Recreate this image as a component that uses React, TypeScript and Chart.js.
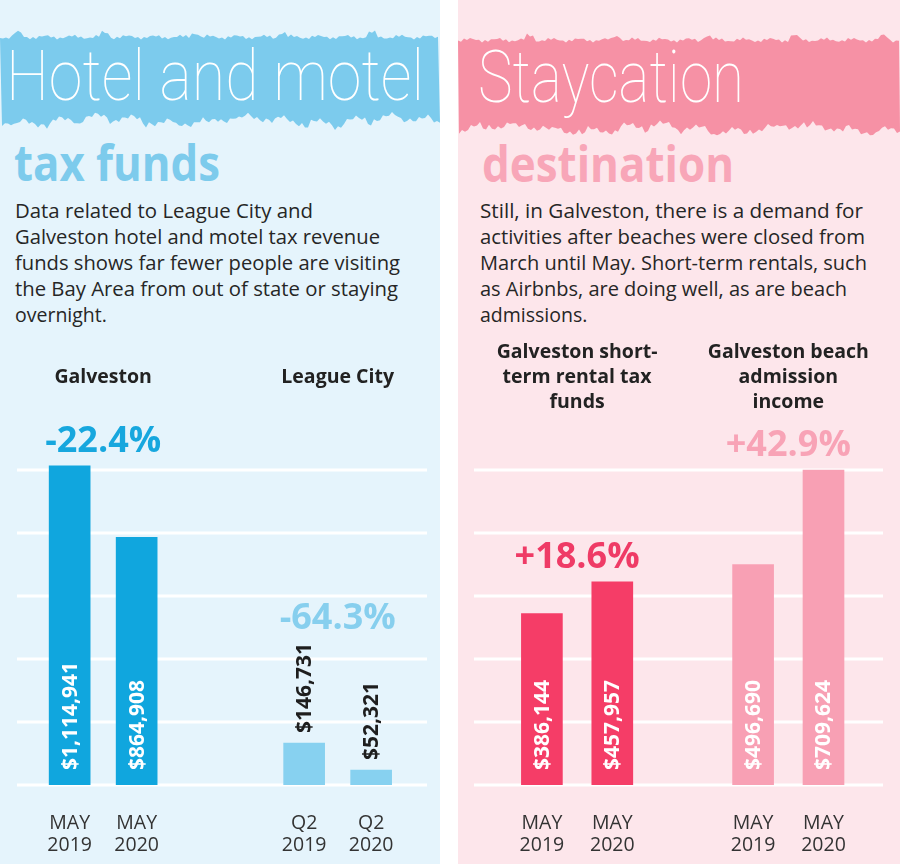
import React, { useEffect, useRef } from 'react';
import { Chart, registerables } from 'chart.js';

Chart.register(...registerables);

// ---------- data ----------
const galvestonTitle = ['Galveston'];
const galvestonLabels = [['MAY', '2019'], ['MAY', '2020']];
const galvestonValues = [1114941, 864908];
const galvestonChange = '-22.4%';

const leagueTitle = ['League City'];
const leagueLabels = [['Q2', '2019'], ['Q2', '2020']];
const leagueValues = [146731, 52321];
const leagueChange = '-64.3%';

const rentalTitle = ['Galveston short-', 'term rental tax', 'funds'];
const rentalLabels = [['MAY', '2019'], ['MAY', '2020']];
const rentalValues = [386144, 457957];
const rentalChange = '+18.6%';

const beachTitle = ['Galveston beach', 'admission', 'income'];
const beachLabels = [['MAY', '2019'], ['MAY', '2020']];
const beachValues = [496690, 709624];
const beachChange = '+42.9%';

const leftGridValues = [0, 220000, 440000, 660000, 880000, 1100000];
const rightGridValues = [0, 142000, 284000, 426000, 568000, 710000];

const leftTitle = 'Hotel and motel';
const leftSubtitle = 'tax funds';
const leftBody = [
  'Data related to League City and',
  'Galveston hotel and motel tax revenue',
  'funds shows far fewer people are visiting',
  'the Bay Area from out of state or staying',
  'overnight.',
];
const rightTitle = 'Staycation';
const rightSubtitle = 'destination';
const rightBody = [
  'Still, in Galveston, there is a demand for',
  'activities after beaches were closed from',
  'March until May. Short-term rentals, such',
  'as Airbnbs, are doing well, as are beach',
  'admissions.',
];

// ---------- layout ----------
const CANVAS_TOP = 330;
const CANVAS_H = 534;
const TITLE_CENTER = 377;
const FONT = '"Open Sans", "Noto Sans", sans-serif';

type Group = {
  title: string[];
  labels: string[][];
  values: number[];
  slots: number[];
  barColor: string;
  changeText: string;
  changeColor: string;
  inside: boolean;
  valueColor: string;
};

type PanelProps = {
  left: number;
  width: number;
  slotCount: number;
  groups: Group[];
  yMax: number;
  gridValues: number[];
  gridFrom: number;
  gridTo: number;
  padLeft: number;
  padRight: number;
  padTop: number;
};

function BarPanel(p: PanelProps) {
  const ref = useRef<HTMLCanvasElement>(null);
  useEffect(() => {
    const labels: any[] = Array.from({ length: p.slotCount }, () => '');
    const data: (number | null)[] = Array(p.slotCount).fill(null);
    const colors: string[] = Array(p.slotCount).fill('rgba(0,0,0,0)');
    p.groups.forEach((g) =>
      g.slots.forEach((k, i) => {
        labels[k] = g.labels[i];
        data[k] = g.values[i];
        colors[k] = g.barColor;
      })
    );

    const decor = {
      id: 'panelDecor',
      beforeDatasetsDraw(chart: any) {
        const { ctx } = chart;
        const ys = chart.scales.y;
        ctx.save();
        ctx.strokeStyle = '#ffffff';
        ctx.lineWidth = 3;
        p.gridValues.forEach((v) => {
          const py = ys.getPixelForValue(v);
          ctx.beginPath();
          ctx.moveTo(p.gridFrom, py);
          ctx.lineTo(p.gridTo, py);
          ctx.stroke();
        });
        ctx.restore();
      },
      afterDatasetsDraw(chart: any) {
        const { ctx } = chart;
        const meta = chart.getDatasetMeta(0);
        p.groups.forEach((g) => {
          let topMost = Infinity;
          let sumX = 0;
          ctx.save();
          ctx.font = `bold 21px ${FONT}`;
          g.slots.forEach((k, i) => {
            const el: any = meta.data[k];
            const text = '$' + g.values[i].toLocaleString('en-US');
            const w = ctx.measureText(text).width;
            sumX += el.x;
            const startY = g.inside ? el.base - 15 : el.y - 10;
            ctx.save();
            ctx.translate(el.x + 1, startY);
            ctx.rotate(-Math.PI / 2);
            ctx.textAlign = 'left';
            ctx.textBaseline = 'middle';
            ctx.fillStyle = g.valueColor;
            ctx.fillText(text, 0, 0);
            ctx.restore();
            topMost = Math.min(topMost, g.inside ? el.y : startY - w);
          });
          const cx = sumX / g.slots.length;
          ctx.textAlign = 'center';
          ctx.textBaseline = 'middle';
          ctx.font = `bold 36px ${FONT}`;
          ctx.fillStyle = g.changeColor;
          ctx.fillText(g.changeText, cx, topMost - 24);
          ctx.font = `bold 19.5px ${FONT}`;
          ctx.fillStyle = '#222222';
          g.title.forEach((line, i) =>
            ctx.fillText(line, cx, TITLE_CENTER - CANVAS_TOP + (i - (g.title.length - 1) / 2) * 25)
          );
          ctx.restore();
        });
      },
    };

    const chart = new Chart(ref.current as HTMLCanvasElement, {
      type: 'bar',
      data: {
        labels,
        datasets: [{ data, backgroundColor: colors, barThickness: 41, borderWidth: 0 }],
      },
      options: {
        responsive: false,
        animation: false,
        devicePixelRatio: 1,
        layout: { padding: { left: p.padLeft, right: p.padRight, top: p.padTop, bottom: 0 } },
        plugins: { legend: { display: false }, tooltip: { enabled: false }, title: { display: false } },
        scales: {
          x: {
            grid: { display: false },
            border: { display: false },
            ticks: {
              autoSkip: false,
              maxRotation: 0,
              minRotation: 0,
              padding: 19,
              color: '#333333',
              font: { family: FONT, size: 19.5, lineHeight: 1.15 },
            },
            afterFit: (s: any) => {
              s.height = 79;
            },
          },
          y: { display: false, min: 0, max: p.yMax },
        },
      } as any,
      plugins: [decor as any],
    });
    return () => chart.destroy();
  }, []);
  return (
    <canvas
      ref={ref}
      width={p.width}
      height={CANVAS_H}
      style={{ position: 'absolute', left: p.left, top: CANVAS_TOP, width: p.width, height: CANVAS_H }}
    />
  );
}

function raggedBanner(x0: number, x1: number, top: number, bottom: number, ph: number) {
  const pts: string[] = [];
  for (let x = x0; x <= x1; x += 3) {
    const n =
      Math.sin(x * 0.9 + ph) * 1.2 +
      Math.sin(x * 0.23 + ph * 2) * 1.4 +
      (Math.sin(x * 0.071 + ph) > 0.95 ? -4 : 0);
    pts.push(`${x},${(top + n).toFixed(1)}`);
  }
  for (let x = x1; x >= x0; x -= 3) {
    const n =
      Math.sin(x * 0.7 + ph) * 2 +
      Math.sin(x * 0.17 + ph * 3) * 3 +
      Math.sin(x * 0.043 + ph) * 3 +
      (Math.sin(x * 1.9 + ph) > 0.8 ? 3 : 0);
    pts.push(`${x},${(bottom + n).toFixed(1)}`);
  }
  return pts.join(' ');
}

const leftBodyWidths = [298, 365, 385, 383, 0];
const rightBodyWidths = [383, 385, 387, 367, 0];
const bodyBaselines = [218, 244, 270, 296, 322];

function BodyLine({ x, y, text, w }: { x: number; y: number; text: string; w: number }) {
  const extra: any = w > 0 ? { textLength: w, lengthAdjust: 'spacingAndGlyphs' } : {};
  return (
    <text x={x} y={y} fontFamily="'Open Sans', sans-serif" fontSize={19.5} fill="#262626" {...extra}>
      {text}
    </text>
  );
}

export default function App() {
  const leftGroups: Group[] = [
    {
      title: galvestonTitle, labels: galvestonLabels, values: galvestonValues, slots: [1, 3],
      barColor: '#10a6de', changeText: galvestonChange, changeColor: '#17a7de', inside: true, valueColor: '#ffffff',
    },
    {
      title: leagueTitle, labels: leagueLabels, values: leagueValues, slots: [8, 10],
      barColor: '#87d1f0', changeText: leagueChange, changeColor: '#87cfee', inside: false, valueColor: '#1e1e1e',
    },
  ];
  const rightGroups: Group[] = [
    {
      title: rentalTitle, labels: rentalLabels, values: rentalValues, slots: [1, 3],
      barColor: '#f53d67', changeText: rentalChange, changeColor: '#ef3b66', inside: true, valueColor: '#ffffff',
    },
    {
      title: beachTitle, labels: beachLabels, values: beachValues, slots: [7, 9],
      barColor: '#f8a0b4', changeText: beachChange, changeColor: '#f8a3b6', inside: true, valueColor: '#ffffff',
    },
  ];

  return (
    <div style={{ position: 'fixed', left: 0, top: 0, width: 900, height: 864, background: '#ffffff', overflow: 'hidden' }}>
      <div style={{ position: 'absolute', left: 0, top: 0, width: 440, height: 864, background: '#e5f4fc' }} />
      <div style={{ position: 'absolute', left: 458, top: 0, width: 442, height: 864, background: '#fde6eb' }} />
      <svg width={900} height={864} style={{ position: 'absolute', left: 0, top: 0 }}>
        <polygon points={raggedBanner(0, 440, 37, 120, 0.3)} fill="#7ccbed" />
        <polygon points={raggedBanner(458, 900, 40, 128, 1.7)} fill="#f691a5" />
        <text x={6} y={100} fontFamily="Roboto, 'Open Sans', sans-serif" fontWeight={100} fontSize={70}
          fill="#ffffff" textLength={418} lengthAdjust="spacingAndGlyphs">{leftTitle}</text>
        <text x={478} y={102} fontFamily="Roboto, 'Open Sans', sans-serif" fontWeight={100} fontSize={73}
          fill="#ffffff" textLength={266} lengthAdjust="spacingAndGlyphs">{rightTitle}</text>
        <text x={14} y={181} fontFamily="'Open Sans', sans-serif" fontWeight={700} fontSize={51}
          fill="#7dcbec" textLength={206} lengthAdjust="spacingAndGlyphs">{leftSubtitle}</text>
        <text x={482} y={182} fontFamily="'Open Sans', sans-serif" fontWeight={700} fontSize={51}
          fill="#f8a6b8" textLength={252} lengthAdjust="spacingAndGlyphs">{rightSubtitle}</text>
        {leftBody.map((line, i) => (
          <BodyLine key={'l' + i} x={15} y={bodyBaselines[i]} text={line} w={leftBodyWidths[i]} />
        ))}
        {rightBody.map((line, i) => (
          <BodyLine key={'r' + i} x={480} y={bodyBaselines[i]} text={line} w={rightBodyWidths[i]} />
        ))}
      </svg>
      <BarPanel
        left={0} width={440} slotCount={12} groups={leftGroups}
        yMax={1130000} gridValues={leftGridValues} gridFrom={17} gridTo={427}
        padLeft={19.4} padRight={18.6} padTop={131.4}
      />
      <BarPanel
        left={458} width={442} slotCount={11} groups={rightGroups}
        yMax={720000} gridValues={rightGridValues} gridFrom={16} gridTo={425}
        padLeft={31.1} padRight={23.7} padTop={135.6}
      />
    </div>
  );
}
